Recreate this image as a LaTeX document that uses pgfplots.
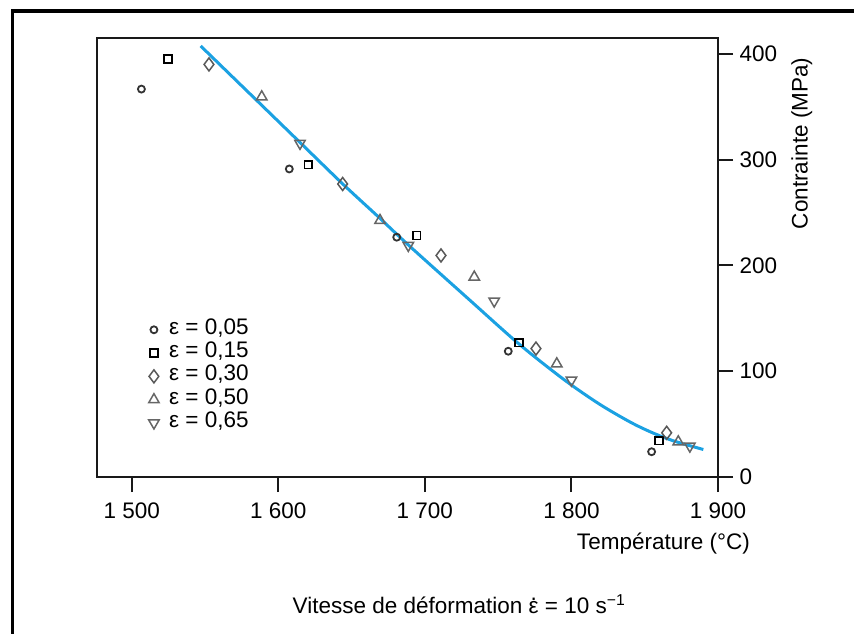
\documentclass[border=0pt]{standalone}
\usepackage{fontspec}
\setmainfont{Liberation Sans}
\usepackage{pgfplots}
\pgfplotsset{compat=1.18}

\definecolor{curveblue}{HTML}{1BA1E2}
\newcommand{\fs}{\fontsize{22.5}{27}\selectfont}
\newcommand{\edot}{\ooalign{ε\cr\hidewidth\raisebox{.55em}{.}\hidewidth\cr}}

\begin{document}
\begin{tikzpicture}
\useasboundingbox (0pt,0pt) rectangle (854pt,633pt);
% outer frame (only top and left edges visible)
\draw[line width=3.4pt] (12.5pt,-5pt) -- (12.5pt,622pt) -- (860pt,622pt);

\begin{axis}[
    at={(97pt,156pt)}, anchor=south west,
    scale only axis,
    width=621pt, height=439pt,
    xmin=1476.3, xmax=1900,
    ymin=0, ymax=415,
    xtick={1500,1600,1700,1800,1900},
    ytick={0,100,200,300,400},
    xtick pos=bottom, ytick pos=right,
    yticklabel pos=right,
    tick align=outside,
    major tick length=15pt,
    axis line style={line width=2pt, black!90},
    tick style={line width=2pt, black!90},
    ticklabel style={font=\fs},
    xticklabel style={yshift=-7pt},
    yticklabel style={xshift=3pt},
    /pgf/number format/.cd, 1000 sep={\ }, assume math mode=true, /pgfplots/.cd,
    xlabel={Température (°C)},
    xlabel style={font=\fs, at={(axis description cs:1.0515,-0.152)}, anchor=east, inner sep=0pt},
    ylabel={Contrainte (MPa)},
    ylabel style={font=\fs, at={(axis description cs:1.1348,0.76)}, anchor=center, inner sep=0pt},
    legend cell align=left,
    legend image code/.code={\draw[mark repeat=2,mark phase=2,#1] plot coordinates {(0pt,0pt) (4.5pt,0pt) (9pt,0pt)};},
    legend style={draw=none, fill=none, font=\fs, inner sep=0pt,
        at={(axis description cs:0.083,0.362)}, anchor=north west,
        column sep=10pt, row sep=0.3pt,
        nodes={inner sep=0pt, text height=16pt, text depth=7pt}},
]

% fitted curve
\addplot[curveblue, line width=3pt, smooth, tension=0.5, forget plot] coordinates {
    (1547,407.5) (1589,351) (1615,316) (1644,277) (1669,245) (1689,219)
    (1730,168) (1764,126) (1795,92) (1819,69) (1840,52) (1855,42)
    (1870,34) (1890,26)
};

% eps = 0,05
\addplot[only marks, mark=o, mark size=3.5pt, black!80, mark options={line width=1.8pt}] coordinates {
    (1506.6,366.7) (1607.5,291.2) (1680.8,226.7) (1756.9,118.9) (1854.7,23.9)
};
\addlegendentry{ε = 0,05}

% eps = 0,15
\addplot[only marks, mark=square, mark size=3.9pt, black, mark options={line width=1.7pt}] coordinates {
    (1524.6,395) (1620.5,295.3) (1694.4,228.3) (1764.2,127) (1859.7,34.3)
};
\addlegendentry{ε = 0,15}

% eps = 0,30
\addplot[only marks, mark=diamond, mark size=6.5pt, black!65, mark options={line width=1.5pt}] coordinates {
    (1552.7,390) (1643.9,277) (1711,209.4) (1775.8,121.4) (1865,41.8)
};
\addlegendentry{ε = 0,30}

% eps = 0,50
\addplot[only marks, mark=triangle, mark size=6pt, black!60, mark options={line width=1.5pt}] coordinates {
    (1588.7,359.4) (1669.4,242.5) (1733.7,189) (1790,107) (1872.9,33.3)
};
\addlegendentry{ε = 0,50}

% eps = 0,65
\addplot[only marks, mark=triangle, mark size=6pt, black!60, mark options={line width=1.5pt, rotate=180}] coordinates {
    (1614.8,315.4) (1688.7,218.9) (1747.3,166.3) (1800,91.5) (1880.8,29.2)
};
\addlegendentry{ε = 0,65}

\end{axis}

\node[anchor=base, inner sep=0pt, font=\fs] at (459pt,20pt)
    {Vitesse de déformation \edot{} = 10 s\textsuperscript{−1}};
\end{tikzpicture}
\end{document}
